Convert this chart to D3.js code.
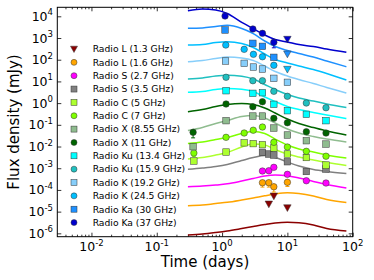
<!DOCTYPE html>
<html>
<head>
<meta charset="utf-8">
<script src="https://cdn.jsdelivr.net/npm/d3@7"></script>
<style>
body { margin: 0; background: #fff; }
svg { display: block; font-family: "DejaVu Sans", sans-serif; }
</style>
</head>
<body>
<script>
// legend order, top to bottom
var bandLabels = ['Radio L (1.3 GHz)', 'Radio L (1.6 GHz)', 'Radio S (2.7 GHz)', 'Radio S (3.5 GHz)',
    'Radio C (5 GHz)', 'Radio C (7 GHz)', 'Radio X (8.55 GHz)', 'Radio X (11 GHz)',
    'Radio Ku (13.4 GHz)', 'Radio Ku (15.9 GHz)', 'Radio K (19.2 GHz)', 'Radio K (24.5 GHz)',
    'Radio Ka (30 GHz)', 'Radio Ka (37 GHz)'];

var xTicks = [0.01, 0.1, 1, 10, 100];
var xTickExp = ['-2', '-1', '0', '1', '2'];
var yTicks = [1e4, 1e3, 1e2, 1e1, 1, 1e-1, 1e-2, 1e-3, 1e-4, 1e-5, 1e-6];
var yTickExp = ['4', '3', '2', '1', '0', '-1', '-2', '-3', '-4', '-5', '-6'];

// model light curves (scaled), sampled at these times (days)
var tModel = [0.3, 0.5, 0.8, 1.2, 2, 3, 4.5, 6.5, 10, 15, 25, 40, 80];
var modelL13 = [8.4e-7, 9.3e-7, 1.09e-6, 1.28e-6, 1.66e-6, 2.06e-6, 2.54e-6, 2.98e-6, 3.21e-6, 3.05e-6, 2.41e-6, 1.66e-6, 1.28e-6];
var modelL16 = [1.87e-5, 2.01e-5, 2.36e-5, 2.68e-5, 3.42e-5, 4.24e-5, 5.35e-5, 6.47e-5, 7.35e-5, 6.82e-5, 5.24e-5, 3.61e-5, 2.62e-5];
var modelS27 = [1.4e-4, 1.51e-4, 1.68e-4, 1.91e-4, 2.57e-4, 3.35e-4, 4.37e-4, 4.85e-4, 4.47e-4, 3.53e-4, 2.44e-4, 1.77e-4, 1.22e-4];
var modelS35 = [8.9e-4, 1.02e-3, 1.2e-3, 1.48e-3, 2.26e-3, 3.11e-3, 3.85e-3, 3.11e-3, 1.93e-3, 1.26e-3, 8.7e-4, 7.05e-4, 5.7e-4];
var modelC5 = [0.00265, 0.00311, 0.00406, 0.00528, 0.00948, 0.013, 0.0117, 0.00728, 0.00451, 0.00328, 0.00239, 0.00183, 0.00133];
var modelC7 = [0.0137, 0.0161, 0.021, 0.026, 0.0397, 0.0491, 0.0397, 0.0221, 0.0117, 0.00767, 0.00557, 0.00406, 0.00295];
var modelX855 = [0.0546, 0.0752, 0.115, 0.158, 0.241, 0.268, 0.206, 0.121, 0.064, 0.0419, 0.0289, 0.0221, 0.0161];
var modelX11 = [0.402, 0.507, 0.697, 0.861, 0.957, 0.861, 0.594, 0.35, 0.185, 0.115, 0.0752, 0.0518, 0.0339];
var modelKu134 = [3.15, 3.42, 4.24, 4.71, 4.32, 3.42, 1.91, 1.19, 0.697, 0.507, 0.369, 0.283, 0.195];
var modelKu159 = [12.9, 14.3, 17.7, 19.1, 17.2, 12.9, 7.19, 4.24, 2.49, 1.72, 1.25, 0.908, 0.627];
var modelK192 = [80.9, 91.8, 114, 133, 120, 91.8, 51.3, 28.6, 17.7, 12.2, 8.0, 5.24, 2.92];
var modelK245 = [475, 501, 620, 675, 557, 365, 183, 102, 70.5, 51.3, 35.3, 23.1, 11.6];
var modelKa30 = [2800, 2900, 3400, 3850, 2750, 1600, 727, 406, 265, 193, 133, 87, 47.5];
var modelKa37 = [18000, 22000, 19500, 13500, 5200, 2700, 1370, 850, 655, 500, 406, 311, 219];

// detections: [time (days), flux, error]
var ptsL16 = [[4.15, 2.15e-4, 8e-5], [5.2, 2.15e-4, 8e-5], [6.2, 1.4e-4, 6e-5], [10, 2.24e-4, 8e-5]];
var ptsS27 = [[4.15, 7.43e-4], [5.2, 7.67e-4], [6.2, 1.1e-3], [10, 5.24e-4], [19.5, 2.65e-4], [39, 2.08e-4]];
var ptsS35 = [[4.15, 0.00541], [5.2, 0.00451], [6.2, 0.00406], [10, 0.00199], [19.5, 0.000705], [39, 0.000918]];
var ptsC5 = [[0.37, 0.00215], [1.15, 0.00557], [2.18, 0.0148], [3.0, 0.0136], [4.15, 0.0122], [6.2, 0.00853],
    [10, 0.00451], [19.5, 0.00311], [39, 0.0014, 0.0004]];
var ptsC7 = [[0.37, 0.00501, 0.0015], [1.15, 0.0265], [2.18, 0.0419], [3.0, 0.0564], [4.15, 0.0791], [6.2, 0.0156],
    [10, 0.00948], [19.5, 0.00601], [39, 0.00357]];
var ptsX855 = [[0.36, 0.0098, 0.003], [1.15, 0.155], [2.96, 0.254], [4.15, 0.254], [6.2, 0.0711], [10, 0.0339],
    [19.5, 0.0185], [39, 0.013]];
var ptsX11 = [[0.36, 0.0451, 0.02], [1.15, 0.908], [2.96, 0.682], [4.15, 1.16], [6.2, 0.199], [10, 0.125],
    [19.5, 0.0481], [39, 0.0419]];
var ptsKu134 = [[1.15, 3.72], [2.96, 2.83], [4.15, 3.01], [6.2, 0.881], [10, 0.447], [19.5, 0.305], [39, 0.155]];
var ptsKu159 = [[1.15, 15.5], [2.96, 10.8], [4.15, 10.8], [6.2, 3.5], [10, 2.06], [19.5, 1.01], [39, 0.614]];
var ptsK192 = [[1.13, 87], [2.18, 68.2], [3.02, 46], [4.15, 37.2], [6.2, 13.9], [10, 9.1]];
var ptsK245 = [[1.14, 475], [2.18, 301], [3.02, 177], [4.15, 137], [6.2, 55.2]];
var ptsKa30 = [[1.11, 2340], [2.96, 570], [4.15, 414], [6.2, 129]];
var ptsKa37 = [[1.11, 10300], [2.96, 2600], [4.15, 1640], [6.2, 634, 280]];

// upper limits: [time (days), flux]
var ulL13 = [[5.2, 2.24e-5], [6.2, 5.24e-5], [10, 1.51e-5]];
var ulK245 = [[10, 36.1]];
var ulKa30 = [[10, 183]];
var ulKa37 = [[10, 871]];

var bandColors = ['#8b0000', '#ffa500', '#ff00ff', '#808080', '#adff2f', '#7fff00', '#8fbc8f', '#006400',
    '#00ffff', '#20c0c0', '#87cefa', '#00bfff', '#1e90ff', '#0000cd'];
var bandShapes = ['tri', 'circle', 'circle', 'square', 'square', 'circle', 'square', 'circle',
    'square', 'circle', 'square', 'circle', 'square', 'circle'];

var series = [
    {model: modelL13, pts: [], ul: ulL13},
    {model: modelL16, pts: ptsL16, ul: []},
    {model: modelS27, pts: ptsS27, ul: []},
    {model: modelS35, pts: ptsS35, ul: []},
    {model: modelC5, pts: ptsC5, ul: []},
    {model: modelC7, pts: ptsC7, ul: []},
    {model: modelX855, pts: ptsX855, ul: []},
    {model: modelX11, pts: ptsX11, ul: []},
    {model: modelKu134, pts: ptsKu134, ul: []},
    {model: modelKu159, pts: ptsKu159, ul: []},
    {model: modelK192, pts: ptsK192, ul: []},
    {model: modelK245, pts: ptsK245, ul: ulK245},
    {model: modelKa30, pts: ptsKa30, ul: ulKa30},
    {model: modelKa37, pts: ptsKa37, ul: ulKa37}
];

var svg, x, y;
var plotL = 57.3, plotR = 352.7, plotT = 7.3, plotB = 236.7;

window.document.addEventListener('DOMContentLoaded', init, false);

function init() {
    svg = d3.select('body').append('svg').attr('width', 374).attr('height', 280);

    x = d3.scaleLog().domain([0.003, 100]).range([plotL, plotR]);
    y = d3.scaleLog().domain([7e-7, 2.6e4]).range([plotB, plotT]);

    drawAxes();
    drawCurves();
    drawPoints();
    drawLegend();
}

function powLabel(sel, exp) {
    sel.append('tspan').text('10');
    sel.append('tspan').attr('dy', -5.5).attr('font-size', 8.5).text(exp);
}

function drawAxes() {
    var minors = [];
    for (var e = -3; e < 2; e++) {
        for (var m = 2; m < 10; m++) {
            var v = m * Math.pow(10, e);
            if (v > 0.003 && v < 100) minors.push(v);
        }
    }

    var g = svg.append('g');
    // inward ticks on all four sides
    g.append('g').attr('transform', 'translate(0,' + plotB + ')')
        .call(d3.axisBottom(x).tickValues(xTicks).tickSize(-4).tickFormat(''));
    g.append('g').attr('transform', 'translate(0,' + plotB + ')')
        .call(d3.axisBottom(x).tickValues(minors).tickSize(-2).tickFormat(''));
    g.append('g').attr('transform', 'translate(0,' + plotT + ')')
        .call(d3.axisTop(x).tickValues(xTicks).tickSize(-4).tickFormat(''));
    g.append('g').attr('transform', 'translate(0,' + plotT + ')')
        .call(d3.axisTop(x).tickValues(minors).tickSize(-2).tickFormat(''));
    g.append('g').attr('transform', 'translate(' + plotL + ',0)')
        .call(d3.axisLeft(y).tickValues(yTicks).tickSize(-4).tickFormat(''));
    g.append('g').attr('transform', 'translate(' + plotR + ',0)')
        .call(d3.axisRight(y).tickValues(yTicks).tickSize(-4).tickFormat(''));
    g.selectAll('.domain').remove();
    g.selectAll('line').attr('stroke', '#000').attr('stroke-width', 0.8);

    svg.append('rect')
        .attr('x', plotL).attr('y', plotT)
        .attr('width', plotR - plotL).attr('height', plotB - plotT)
        .attr('fill', 'none').attr('stroke', '#000').attr('stroke-width', 1);

    xTicks.forEach(function (v, i) {
        var t = svg.append('text')
            .attr('x', x(v)).attr('y', 251)
            .attr('text-anchor', 'middle').attr('font-size', 12.5);
        powLabel(t, xTickExp[i]);
    });
    yTicks.forEach(function (v, i) {
        var t = svg.append('text')
            .attr('x', 53).attr('y', y(v) + 4.5)
            .attr('text-anchor', 'end').attr('font-size', 12.5);
        powLabel(t, yTickExp[i]);
    });

    svg.append('text')
        .attr('x', (plotL + plotR) / 2).attr('y', 267)
        .attr('text-anchor', 'middle').attr('font-size', 15)
        .text('Time (days)');
    svg.append('text')
        .attr('transform', 'translate(19,' + (plotT + plotB) / 2 + ') rotate(-90)')
        .attr('text-anchor', 'middle').attr('font-size', 15)
        .text('Flux density (mJy)');
}

function drawCurves() {
    var line = d3.line()
        .x(function (d) { return x(d[0]); })
        .y(function (d) { return y(d[1]); })
        .curve(d3.curveMonotoneX);

    series.forEach(function (s, i) {
        svg.append('path')
            .datum(tModel.map(function (t, k) { return [t, s.model[k]]; }))
            .attr('d', line)
            .attr('fill', 'none')
            .attr('stroke', bandColors[i])
            .attr('stroke-width', 1.5);
    });
}

function marker(g, shape, cx, cy, color, size) {
    if (shape === 'circle') {
        g.append('circle').attr('cx', cx).attr('cy', cy).attr('r', size / 2)
            .attr('fill', color).attr('stroke', '#333').attr('stroke-width', 0.5);
    } else if (shape === 'square') {
        g.append('rect').attr('x', cx - size / 2).attr('y', cy - size / 2)
            .attr('width', size).attr('height', size)
            .attr('fill', color).attr('stroke', '#333').attr('stroke-width', 0.5);
    } else {
        var h = size / 2 + 0.5;
        g.append('path')
            .attr('d', 'M' + (cx - h) + ',' + (cy - h * 0.8) + 'L' + (cx + h) + ',' + (cy - h * 0.8) +
                'L' + cx + ',' + (cy + h) + 'Z')
            .attr('fill', color).attr('stroke', '#333').attr('stroke-width', 0.5);
    }
}

function drawPoints() {
    var g = svg.append('g');
    series.forEach(function (s, i) {
        var col = bandColors[i];
        s.pts.forEach(function (p) {
            if (p[2]) {
                var y0 = y(Math.max(p[1] - p[2], 1e-9)), y1 = y(p[1] + p[2]), cx = x(p[0]);
                g.append('line').attr('x1', cx).attr('x2', cx).attr('y1', y0).attr('y2', y1)
                    .attr('stroke', col).attr('stroke-width', 1);
                g.append('line').attr('x1', cx - 2).attr('x2', cx + 2).attr('y1', y0).attr('y2', y0)
                    .attr('stroke', col).attr('stroke-width', 1);
            }
        });
        s.pts.forEach(function (p) {
            marker(g, bandShapes[i], x(p[0]), y(p[1]), col, 6.5);
        });
        s.ul.forEach(function (p) {
            marker(g, 'tri', x(p[0]), y(p[1]), col, 6.5);
        });
    });
}

function drawLegend() {
    var g = svg.append('g');
    bandLabels.forEach(function (lab, i) {
        var cy = 49 + i * 13.35;
        marker(g, bandShapes[i], 74, cy, bandColors[i], 6);
        g.append('text')
            .attr('x', 92.7).attr('y', cy + 3.3)
            .attr('font-size', 9.2)
            .text(lab);
    });
}
</script>
</body>
</html>
